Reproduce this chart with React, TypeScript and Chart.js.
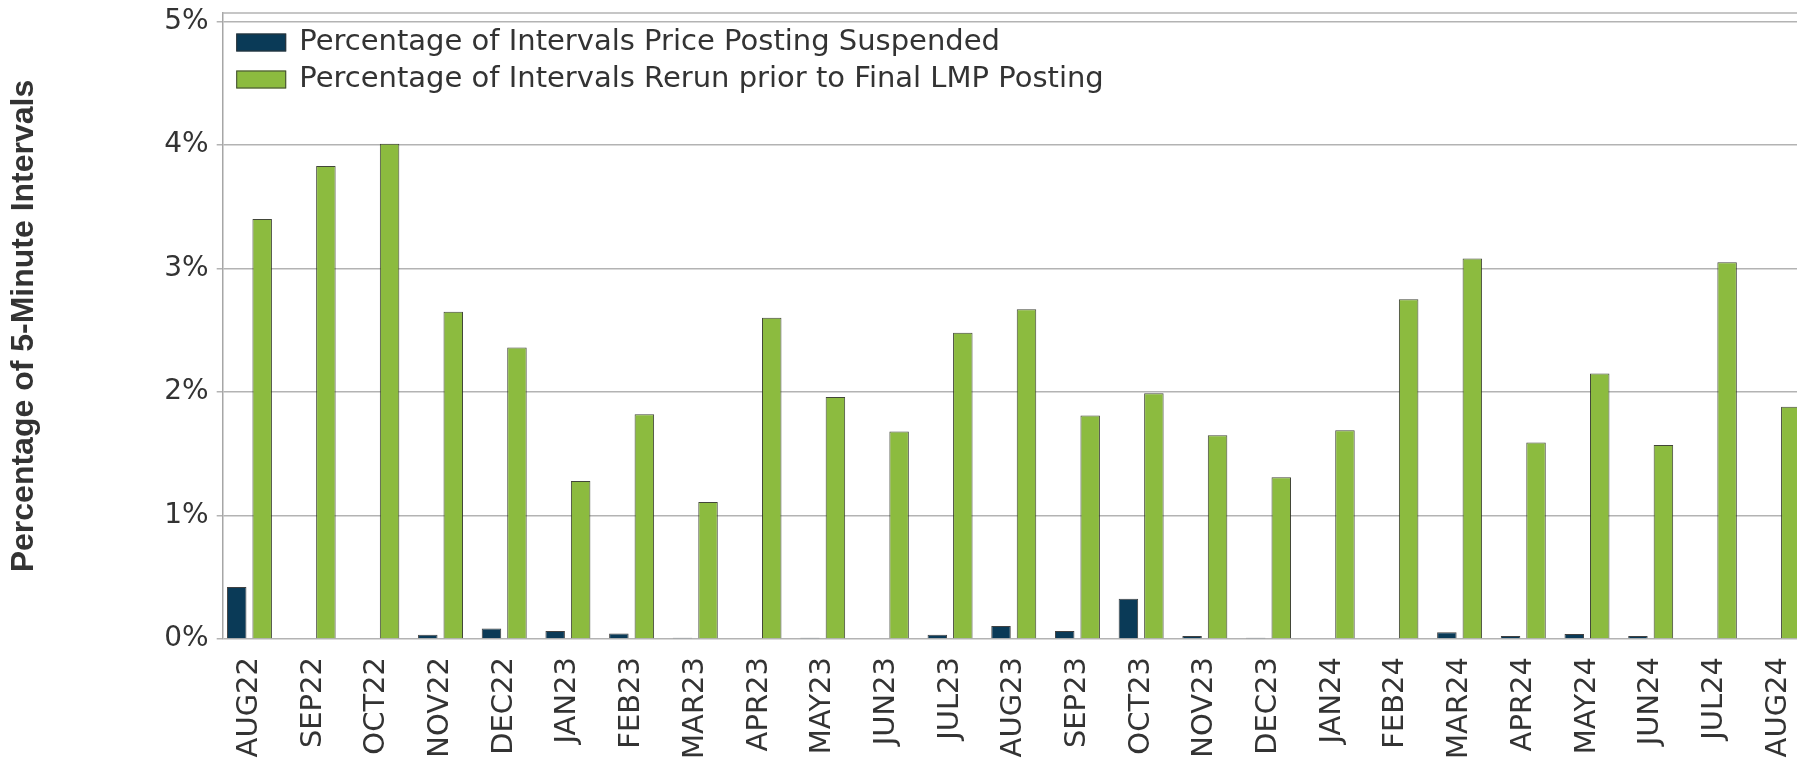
import React, { useEffect, useRef } from 'react';
import { Chart, registerables } from 'chart.js';

Chart.register(...registerables);

const categories = [
  'AUG22', 'SEP22', 'OCT22', 'NOV22', 'DEC22', 'JAN23', 'FEB23', 'MAR23', 'APR23', 'MAY23',
  'JUN23', 'JUL23', 'AUG23', 'SEP23', 'OCT23', 'NOV23', 'DEC23', 'JAN24', 'FEB24', 'MAR24',
  'APR24', 'MAY24', 'JUN24', 'JUL24', 'AUG24',
];

const suspendedPct = [
  0.42, 0, 0, 0.035, 0.085, 0.065, 0.045, 0.01, 0, 0.01,
  0, 0.035, 0.105, 0.065, 0.325, 0.025, 0.01, 0, 0, 0.055,
  0.025, 0.04, 0.025, 0, 0,
];

const rerunPct = [
  3.40, 3.83, 4.01, 2.65, 2.36, 1.28, 1.82, 1.11, 2.60, 1.96,
  1.68, 2.48, 2.67, 1.81, 1.99, 1.65, 1.31, 1.69, 2.75, 3.08,
  1.59, 2.15, 1.57, 3.05, 1.88,
];

const yTickValues = [0, 1, 2, 3, 4, 5];

const seriesLabels = [
  'Percentage of Intervals Price Posting Suspended',
  'Percentage of Intervals Rerun prior to Final LMP Posting',
];

const yAxisTitle = 'Percentage of 5-Minute Intervals';

const FONT = '"DejaVu Sans", sans-serif';
const TEXT = '#333333';
const GRID = '#b3b3b3';
const DARK = '#0a3a57';
const GREEN = '#8cbb3f';

const frameAndLegend = {
  id: 'frameAndLegend',
  afterDraw(chart: any) {
    const { ctx, chartArea } = chart;
    ctx.save();
    ctx.strokeStyle = GRID;
    ctx.lineWidth = 1.5;
    ctx.beginPath();
    ctx.moveTo(chartArea.left, chartArea.top);
    ctx.lineTo(chartArea.right, chartArea.top);
    ctx.stroke();

    const boxX = chartArea.left + 13.5;
    const rowTop = chartArea.top + 20.5;
    const rowGap = 37;
    ctx.font = `29px ${FONT}`;
    ctx.textBaseline = 'middle';
    ctx.textAlign = 'left';
    chart.data.datasets.forEach((ds: any, i: number) => {
      const y = rowTop + i * rowGap;
      ctx.fillStyle = ds.backgroundColor;
      ctx.fillRect(boxX, y, 50, 18);
      ctx.strokeStyle = 'rgba(50,50,50,0.85)';
      ctx.lineWidth = 1;
      ctx.strokeRect(boxX + 0.5, y + 0.5, 49, 17);
      ctx.fillStyle = TEXT;
      ctx.fillText(ds.label, boxX + 63, y + 9);
    });
    ctx.restore();
  },
};

export default function App() {
  const canvasRef = useRef<HTMLCanvasElement | null>(null);

  useEffect(() => {
    if (!canvasRef.current) return;
    const chart = new Chart(canvasRef.current, {
      type: 'bar',
      data: {
        datasets: [
          {
            label: seriesLabels[0],
            data: suspendedPct.map((v, i) => ({ x: i, y: v })),
            backgroundColor: DARK,
            borderColor: 'rgba(30,30,30,0.85)',
            borderWidth: 1,
            categoryPercentage: 0.8,
            barPercentage: 0.765,
          },
          {
            label: seriesLabels[1],
            data: rerunPct.map((v, i) => ({ x: i, y: v })),
            backgroundColor: GREEN,
            borderColor: 'rgba(45,50,35,0.9)',
            borderWidth: 1,
            categoryPercentage: 0.8,
            barPercentage: 0.765,
          },
        ],
      },
      options: {
        animation: false,
        responsive: true,
        maintainAspectRatio: false,
        layout: { padding: { top: 13, right: 15, bottom: 0, left: 0 } },
        plugins: {
          legend: { display: false },
          tooltip: { enabled: false },
        },
        scales: {
          x: {
            type: 'linear',
            min: -0.42,
            max: 24.58,
            offset: false,
            grid: { display: false, drawTicks: false },
            border: { display: false },
            afterBuildTicks: (axis: any) => {
              axis.ticks = categories.map((_, i) => ({ value: i }));
            },
            afterFit: (axis: any) => {
              axis.height = 123;
              axis.paddingLeft = 0;
              axis.paddingRight = 0;
            },
            ticks: {
              autoSkip: false,
              minRotation: 90,
              maxRotation: 90,
              padding: 18,
              color: TEXT,
              font: { family: FONT, size: 29 },
              callback: (v: any) => categories[Math.round(Number(v))] ?? '',
            },
          },
          y: {
            min: 0,
            max: 5.068,
            afterBuildTicks: (axis: any) => {
              axis.ticks = yTickValues.map((v) => ({ value: v }));
            },
            afterFit: (axis: any) => {
              axis.width = 222.7;
              axis.paddingTop = 0;
              axis.paddingBottom = 0;
            },
            grid: { color: GRID, lineWidth: 1.5, tickLength: 6, drawTicks: true },
            border: { display: true, color: '#a6a6a6', width: 1.5 },
            ticks: {
              padding: 8,
              color: TEXT,
              font: { family: FONT, size: 28 },
              callback: (v: any) => `${v}%`,
            },
            title: {
              display: true,
              text: yAxisTitle,
              color: TEXT,
              font: { family: '"Liberation Sans", Arial, sans-serif', size: 32, weight: 'bold' },
              padding: { top: 5, bottom: 0 },
            },
          },
        },
      },
      plugins: [frameAndLegend],
    } as any);
    return () => chart.destroy();
  }, []);

  return (
    <div
      style={{
        position: 'absolute',
        left: 0,
        top: 0,
        width: 1797,
        height: 762,
        overflow: 'hidden',
        background: '#ffffff',
      }}
    >
      <div style={{ position: 'relative', width: 1830, height: 762 }}>
        <canvas ref={canvasRef} />
      </div>
    </div>
  );
}
